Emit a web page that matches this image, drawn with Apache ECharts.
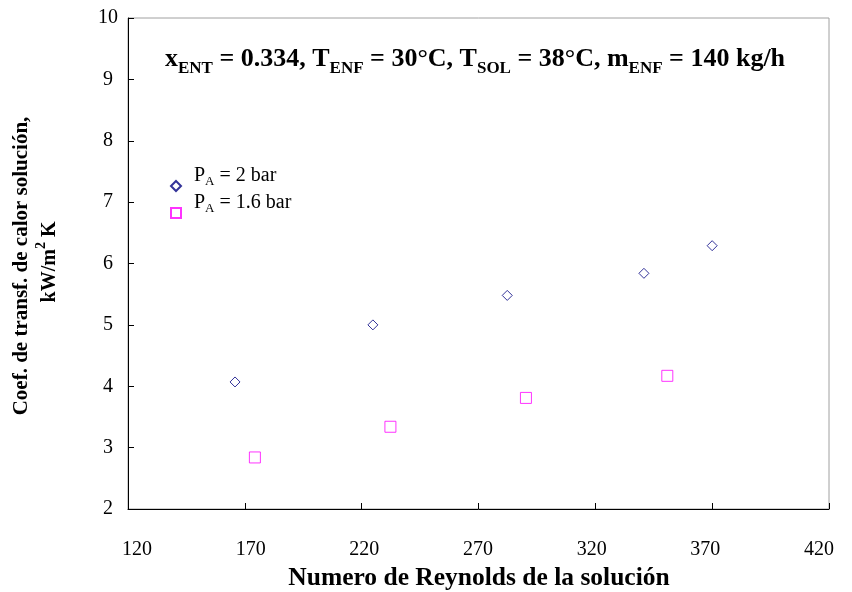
<!DOCTYPE html>
<html>
<head>
<meta charset="utf-8">
<script src="https://cdn.jsdelivr.net/npm/echarts@6/dist/echarts.min.js"></script>
<style>
  html, body { margin: 0; padding: 0; background: #fff; }
  #chart { width: 852px; height: 592px; }
</style>
</head>
<body>
<div id="chart"></div>
<script>
// Heat-transfer coefficient of the solution vs. solution Reynolds number
const reynolds2bar = [165.8, 224.8, 282.3, 340.8, 370.0];
const coef2bar     = [4.07, 5.00, 5.48, 5.84, 6.29];
const reynolds16bar = [174.3, 232.3, 290.3, 350.8];
const coef16bar     = [2.84, 3.34, 3.81, 4.17];

const xTicks = { min: 120, max: 420, interval: 50 };
const yTicks = { min: 2, max: 10, interval: 1 };

const serif = 'Liberation Serif, Times New Roman, serif';

function pairs(xs, ys) { return xs.map((x, i) => [x, ys[i]]); }

// x tick labels are pulled slightly toward the middle of the axis
const xLabelRich = {};
function xLabelKey(v) {
  const k = Math.round((v - xTicks.min) / xTicks.interval);
  const shift = Math.round((9 - k * 19 / 6) * 2);
  const key = 'k' + k;
  if (!xLabelRich[key]) {
    xLabelRich[key] = {
      fontFamily: serif, fontSize: 20, color: '#000',
      padding: shift >= 0 ? [0, 0, 0, shift] : [0, -shift, 0, 0]
    };
  }
  return key;
}
for (let v = xTicks.min; v <= xTicks.max; v += xTicks.interval) xLabelKey(v);

const chart = echarts.init(document.getElementById('chart'), null, { renderer: 'canvas' });

chart.setOption({
  backgroundColor: '#fff',
  animation: false,
  grid: {
    left: 128, right: 23, top: 18, bottom: 83,
    show: true, borderColor: '#a0a0a0', borderWidth: 1, backgroundColor: 'transparent'
  },
  xAxis: {
    type: 'value',
    min: xTicks.min, max: xTicks.max, interval: xTicks.interval,
    axisLine: { show: true, onZero: false, lineStyle: { color: '#000', width: 1 } },
    axisTick: { show: true, inside: true, length: 6, lineStyle: { color: '#000' } },
    axisLabel: {
      margin: 31, fontFamily: serif, fontSize: 20, color: '#000',
      formatter: function (v) { return '{' + xLabelKey(v) + '|' + v + '}'; },
      rich: xLabelRich
    },
    splitLine: { show: false }
  },
  yAxis: {
    type: 'value',
    min: yTicks.min, max: yTicks.max, interval: yTicks.interval,
    axisLine: { show: true, onZero: false, lineStyle: { color: '#000', width: 1 } },
    axisTick: { show: true, inside: true, length: 6, lineStyle: { color: '#000' } },
    axisLabel: { margin: 20, align: 'center', fontFamily: serif, fontSize: 20, color: '#000' },
    splitLine: { show: false }
  },
  legend: {
    orient: 'vertical',
    left: 165, top: 161,
    itemWidth: 10, itemHeight: 10, itemGap: -3,
    data: ['P_A = 2 bar', 'P_A = 1.6 bar'],
    formatter: function (name) {
      const rest = name.split('_A')[1];
      return '{f|P}{s|A}{m|' + rest + '}';
    },
    textStyle: {
      rich: {
        f: { fontFamily: serif, fontSize: 20, color: '#000', lineHeight: 20, padding: [0, 0, 10, 8], verticalAlign: 'bottom' },
        m: { fontFamily: serif, fontSize: 20, color: '#000', lineHeight: 20, padding: [0, 0, 10, 0], verticalAlign: 'bottom' },
        s: { fontFamily: serif, fontSize: 13, color: '#000', lineHeight: 13, padding: [0, 0, 8, 0], verticalAlign: 'bottom' }
      }
    }
  },
  series: [
    {
      name: 'P_A = 2 bar',
      type: 'scatter',
      symbol: 'diamond',
      symbolSize: [10, 10],
      itemStyle: { color: '#fff', borderColor: '#000080', borderWidth: 1 },
      data: pairs(reynolds2bar, coef2bar)
    },
    {
      name: 'P_A = 1.6 bar',
      type: 'scatter',
      symbol: 'rect',
      symbolSize: [11, 11],
      itemStyle: { color: '#fff', borderColor: '#ff00ff', borderWidth: 1 },
      data: pairs(reynolds16bar, coef16bar)
    }
  ],
  graphic: [
    {
      type: 'text',
      left: 165, top: 46,
      style: {
        text: '{m|x}{s|ENT}{m| = 0.334, T}{s|ENF}{m| = 30°C, T}{s|SOL}{m| = 38°C, m}{s|ENF}{m| = 140 kg/h}',
        rich: {
          m: { fontFamily: serif, fontSize: 26, fontWeight: 'bold', fill: '#000', lineHeight: 26, padding: [0, 0, 5, 0], verticalAlign: 'bottom' },
          s: { fontFamily: serif, fontSize: 17, fontWeight: 'bold', fill: '#000', lineHeight: 17, verticalAlign: 'bottom' }
        }
      }
    },
    {
      type: 'text',
      x: 22, y: 266,
      rotation: Math.PI / 2,
      style: {
        text: 'Coef. de transf. de calor solución,',
        fontFamily: serif, fontSize: 21, fontWeight: 'bold', fill: '#000',
        textAlign: 'center', textVerticalAlign: 'middle'
      }
    },
    {
      type: 'text',
      x: 47, y: 262,
      rotation: Math.PI / 2,
      style: {
        text: '{m|kW/m}{p|2}{m| K}',
        textAlign: 'center', textVerticalAlign: 'middle',
        rich: {
          m: { fontFamily: serif, fontSize: 20, fontWeight: 'bold', fill: '#000', lineHeight: 26, verticalAlign: 'bottom' },
          p: { fontFamily: serif, fontSize: 14, fontWeight: 'bold', fill: '#000', lineHeight: 14, verticalAlign: 'top' }
        }
      }
    },
    {
      type: 'text',
      x: 479, y: 578,
      style: {
        text: 'Numero de Reynolds de la solución',
        fontFamily: serif, fontSize: 25.5, fontWeight: 'bold', fill: '#000',
        textAlign: 'center', textVerticalAlign: 'middle'
      }
    }
  ]
});
</script>
</body>
</html>
